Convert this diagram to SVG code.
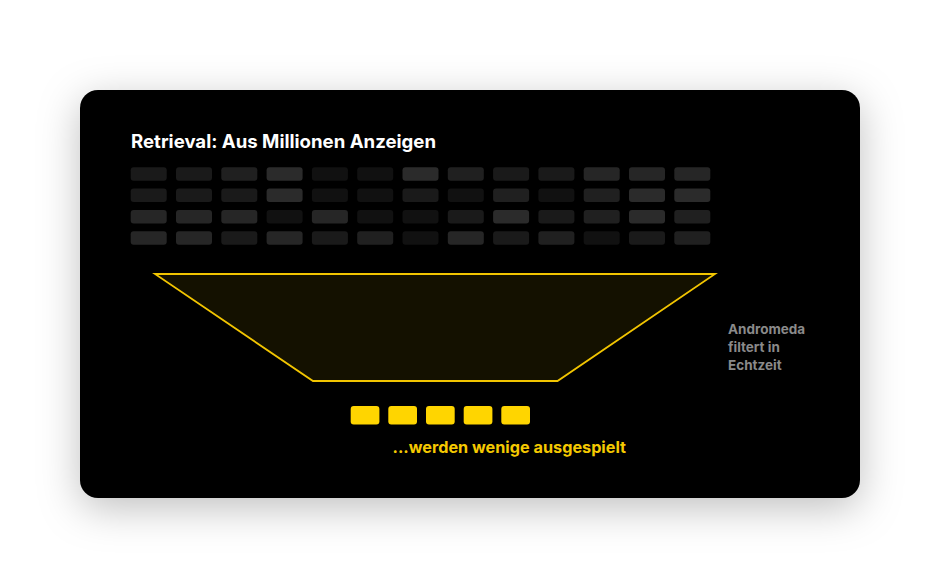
<svg xmlns="http://www.w3.org/2000/svg" width="940" height="588" viewBox="0 0 940 588">
  <defs>
    <filter id="shadow" x="-20%" y="-30%" width="140%" height="160%">
      <feDropShadow dx="0" dy="10" stdDeviation="20" flood-color="#000000" flood-opacity="0.25"/>
    </filter>
  </defs>
  <style>
    .cell { rx: 3px; ry: 3px; }
    .s1 { fill: #111111; }
    .s2 { fill: #1a1a1a; }
    .s3 { fill: #202020; }
    .s4 { fill: #262626; }
    .s5 { fill: #2b2b2b; }
    .pick { fill: #ffd500; }
    .title { font-family: Inter, "Liberation Sans", sans-serif; font-weight: 700; font-size: 18.5px; fill: #ffffff; }
    .side { font-family: Inter, "Liberation Sans", sans-serif; font-weight: 700; font-size: 13.5px; fill: #8a8a8a; }
    .result { font-family: Inter, "Liberation Sans", sans-serif; font-weight: 700; font-size: 16px; fill: #f5c900; }
  </style>
  <rect width="940" height="588" fill="#ffffff"/>
  <g id="card">
    <rect x="80" y="90" width="780" height="408" rx="18" ry="18" fill="#000000" filter="url(#shadow)"/>
  </g>
  <g id="title">
    <text class="title" x="131" y="148.3" textLength="305" lengthAdjust="spacingAndGlyphs">Retrieval: Aus Millionen Anzeigen</text>
  </g>
  <g id="ads">
    <g transform="translate(130.7,167.3)">
      <rect class="cell s2" x="0" y="0" width="36" height="13.5"/>
      <rect class="cell s2" x="45.3" y="0" width="36" height="13.5"/>
      <rect class="cell s3" x="90.6" y="0" width="36" height="13.5"/>
      <rect class="cell s5" x="135.9" y="0" width="36" height="13.5"/>
      <rect class="cell s1" x="181.2" y="0" width="36" height="13.5"/>
      <rect class="cell s1" x="226.5" y="0" width="36" height="13.5"/>
      <rect class="cell s5" x="271.8" y="0" width="36" height="13.5"/>
      <rect class="cell s3" x="317.1" y="0" width="36" height="13.5"/>
      <rect class="cell s2" x="362.4" y="0" width="36" height="13.5"/>
      <rect class="cell s2" x="407.7" y="0" width="36" height="13.5"/>
      <rect class="cell s4" x="453" y="0" width="36" height="13.5"/>
      <rect class="cell s4" x="498.3" y="0" width="36" height="13.5"/>
      <rect class="cell s4" x="543.6" y="0" width="36" height="13.5"/>

      <rect class="cell s2" x="0" y="21.3" width="36" height="13.5"/>
      <rect class="cell s2" x="45.3" y="21.3" width="36" height="13.5"/>
      <rect class="cell s2" x="90.6" y="21.3" width="36" height="13.5"/>
      <rect class="cell s5" x="135.9" y="21.3" width="36" height="13.5"/>
      <rect class="cell s1" x="181.2" y="21.3" width="36" height="13.5"/>
      <rect class="cell s1" x="226.5" y="21.3" width="36" height="13.5"/>
      <rect class="cell s2" x="271.8" y="21.3" width="36" height="13.5"/>
      <rect class="cell s1" x="317.1" y="21.3" width="36" height="13.5"/>
      <rect class="cell s3" x="362.4" y="21.3" width="36" height="13.5"/>
      <rect class="cell s1" x="407.7" y="21.3" width="36" height="13.5"/>
      <rect class="cell s3" x="453" y="21.3" width="36" height="13.5"/>
      <rect class="cell s5" x="498.3" y="21.3" width="36" height="13.5"/>
      <rect class="cell s5" x="543.6" y="21.3" width="36" height="13.5"/>

      <rect class="cell s4" x="0" y="42.6" width="36" height="13.5"/>
      <rect class="cell s4" x="45.3" y="42.6" width="36" height="13.5"/>
      <rect class="cell s4" x="90.6" y="42.6" width="36" height="13.5"/>
      <rect class="cell s1" x="135.9" y="42.6" width="36" height="13.5"/>
      <rect class="cell s4" x="181.2" y="42.6" width="36" height="13.5"/>
      <rect class="cell s1" x="226.5" y="42.6" width="36" height="13.5"/>
      <rect class="cell s1" x="271.8" y="42.6" width="36" height="13.5"/>
      <rect class="cell s2" x="317.1" y="42.6" width="36" height="13.5"/>
      <rect class="cell s5" x="362.4" y="42.6" width="36" height="13.5"/>
      <rect class="cell s2" x="407.7" y="42.6" width="36" height="13.5"/>
      <rect class="cell s3" x="453" y="42.6" width="36" height="13.5"/>
      <rect class="cell s5" x="498.3" y="42.6" width="36" height="13.5"/>
      <rect class="cell s3" x="543.6" y="42.6" width="36" height="13.5"/>

      <rect class="cell s4" x="0" y="63.9" width="36" height="13.5"/>
      <rect class="cell s4" x="45.3" y="63.9" width="36" height="13.5"/>
      <rect class="cell s2" x="90.6" y="63.9" width="36" height="13.5"/>
      <rect class="cell s4" x="135.9" y="63.9" width="36" height="13.5"/>
      <rect class="cell s2" x="181.2" y="63.9" width="36" height="13.5"/>
      <rect class="cell s3" x="226.5" y="63.9" width="36" height="13.5"/>
      <rect class="cell s1" x="271.8" y="63.9" width="36" height="13.5"/>
      <rect class="cell s4" x="317.1" y="63.9" width="36" height="13.5"/>
      <rect class="cell s2" x="362.4" y="63.9" width="36" height="13.5"/>
      <rect class="cell s3" x="407.7" y="63.9" width="36" height="13.5"/>
      <rect class="cell s1" x="453" y="63.9" width="36" height="13.5"/>
      <rect class="cell s2" x="498.3" y="63.9" width="36" height="13.5"/>
      <rect class="cell s3" x="543.6" y="63.9" width="36" height="13.5"/>
    </g>
  </g>
  <g id="funnel">
    <polygon points="155,274 715,274 557.5,381 313,381" fill="#141100" stroke="#f2c500" stroke-width="1.8" stroke-linejoin="miter"/>
  </g>
  <g id="funnel-label">
    <text class="side" x="728" y="334.3">Andromeda</text>
    <text class="side" x="728" y="352.3">filtert in</text>
    <text class="side" x="728" y="370">Echtzeit</text>
  </g>
  <g id="results">
    <rect class="pick" x="350.7" y="406" width="28.7" height="18.5" rx="3" ry="3"/>
    <rect class="pick" x="388.3" y="406" width="28.7" height="18.5" rx="3" ry="3"/>
    <rect class="pick" x="426" y="406" width="28.7" height="18.5" rx="3" ry="3"/>
    <rect class="pick" x="463.7" y="406" width="28.7" height="18.5" rx="3" ry="3"/>
    <rect class="pick" x="501.3" y="406" width="28.7" height="18.5" rx="3" ry="3"/>
  </g>
  <g id="result-label">
    <text class="result" x="392.5" y="453.3" textLength="233.5" lengthAdjust="spacingAndGlyphs">...werden wenige ausgespielt</text>
  </g>
</svg>
